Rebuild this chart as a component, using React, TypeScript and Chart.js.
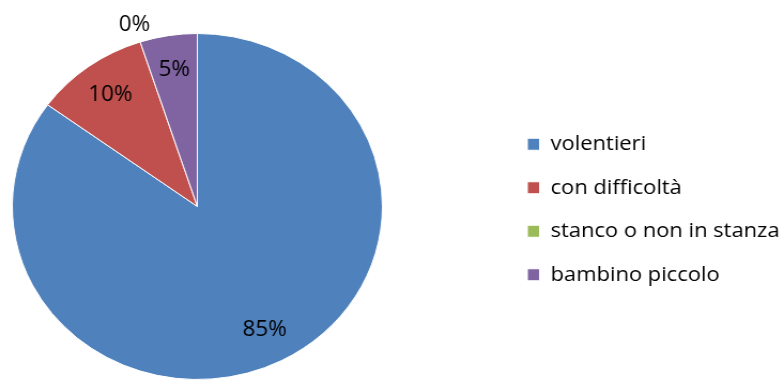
import { useEffect, useRef } from 'react';
import { Chart, registerables } from 'chart.js';

Chart.register(...registerables);

const categories = ['volentieri', 'con difficoltà', 'stanco o non in stanza', 'bambino piccolo'];
const values = [85, 10, 0, 5];
const colors = ['#4F81BD', '#C0504D', '#9BBB59', '#8064A2'];

const DISPLAY_W = 784;
const DISPLAY_H = 380;
const STRETCH = 1.07;
const CANVAS_W = Math.round(DISPLAY_W / STRETCH);
const FONT = "'Open Sans', sans-serif";
const LEGEND_FONT_SIZE = 20.5;
const LABEL_FONT_SIZE = 21;
const PIE_TOP = 33;

// Pie occupies a square area starting at the layout's left padding, from PIE_TOP to the bottom.
const pieAreaPlugin = {
  id: 'pieArea',
  afterLayout(chart: any) {
    const a = chart.chartArea;
    a.top = PIE_TOP;
    a.height = a.bottom - a.top;
    a.right = a.left + a.height;
    a.width = a.height;
  },
};

const labelPlugin = {
  id: 'sliceLabels',
  afterDatasetsDraw(chart: any) {
    const ctx = chart.ctx;
    const meta = chart.getDatasetMeta(0);
    const data = chart.data.datasets[0].data as number[];
    const total = data.reduce((s, v) => s + v, 0);
    ctx.save();
    ctx.font = `${LABEL_FONT_SIZE}px ${FONT}`;
    ctx.fillStyle = '#000000';
    ctx.textAlign = 'center';
    ctx.textBaseline = 'middle';
    meta.data.forEach((el: any, i: number) => {
      const { x, y, startAngle, endAngle, outerRadius } = el.getProps(
        ['x', 'y', 'startAngle', 'endAngle', 'outerRadius'],
        true
      );
      const mid = (startAngle + endAngle) / 2;
      const v = data[i];
      const r = v === 0 ? outerRadius * 1.1 : outerRadius * 0.8;
      const pct = Math.round((v / total) * 100) + '%';
      ctx.fillText(pct, x + Math.cos(mid) * r, y + Math.sin(mid) * r);
    });
    ctx.restore();
  },
};

export default function App() {
  const ref = useRef<HTMLCanvasElement | null>(null);

  useEffect(() => {
    if (!ref.current) return;
    const chart = new Chart(ref.current, {
      type: 'pie',
      data: {
        labels: categories,
        datasets: [
          {
            data: values,
            backgroundColor: colors,
            borderColor: '#ffffff',
            borderWidth: 1,
          },
        ],
      },
      options: {
        responsive: false,
        devicePixelRatio: 1,
        animation: false,
        layout: { padding: { top: 39, bottom: 0, left: 11, right: 0 } },
        plugins: {
          legend: {
            position: 'right',
            maxWidth: 263,
            labels: {
              boxWidth: 11.5,
              boxHeight: 12,
              padding: 23,
              color: '#000000',
              font: { family: FONT, size: LEGEND_FONT_SIZE },
            },
          },
          tooltip: { enabled: false },
        },
      },
      plugins: [pieAreaPlugin, labelPlugin],
    } as any);
    return () => chart.destroy();
  }, []);

  return (
    <div style={{ position: 'fixed', left: 0, top: 0, width: DISPLAY_W, height: DISPLAY_H, background: '#ffffff' }}>
      <canvas
        ref={ref}
        width={CANVAS_W}
        height={DISPLAY_H}
        style={{ width: `${DISPLAY_W}px`, height: `${DISPLAY_H}px`, display: 'block' }}
      />
    </div>
  );
}
